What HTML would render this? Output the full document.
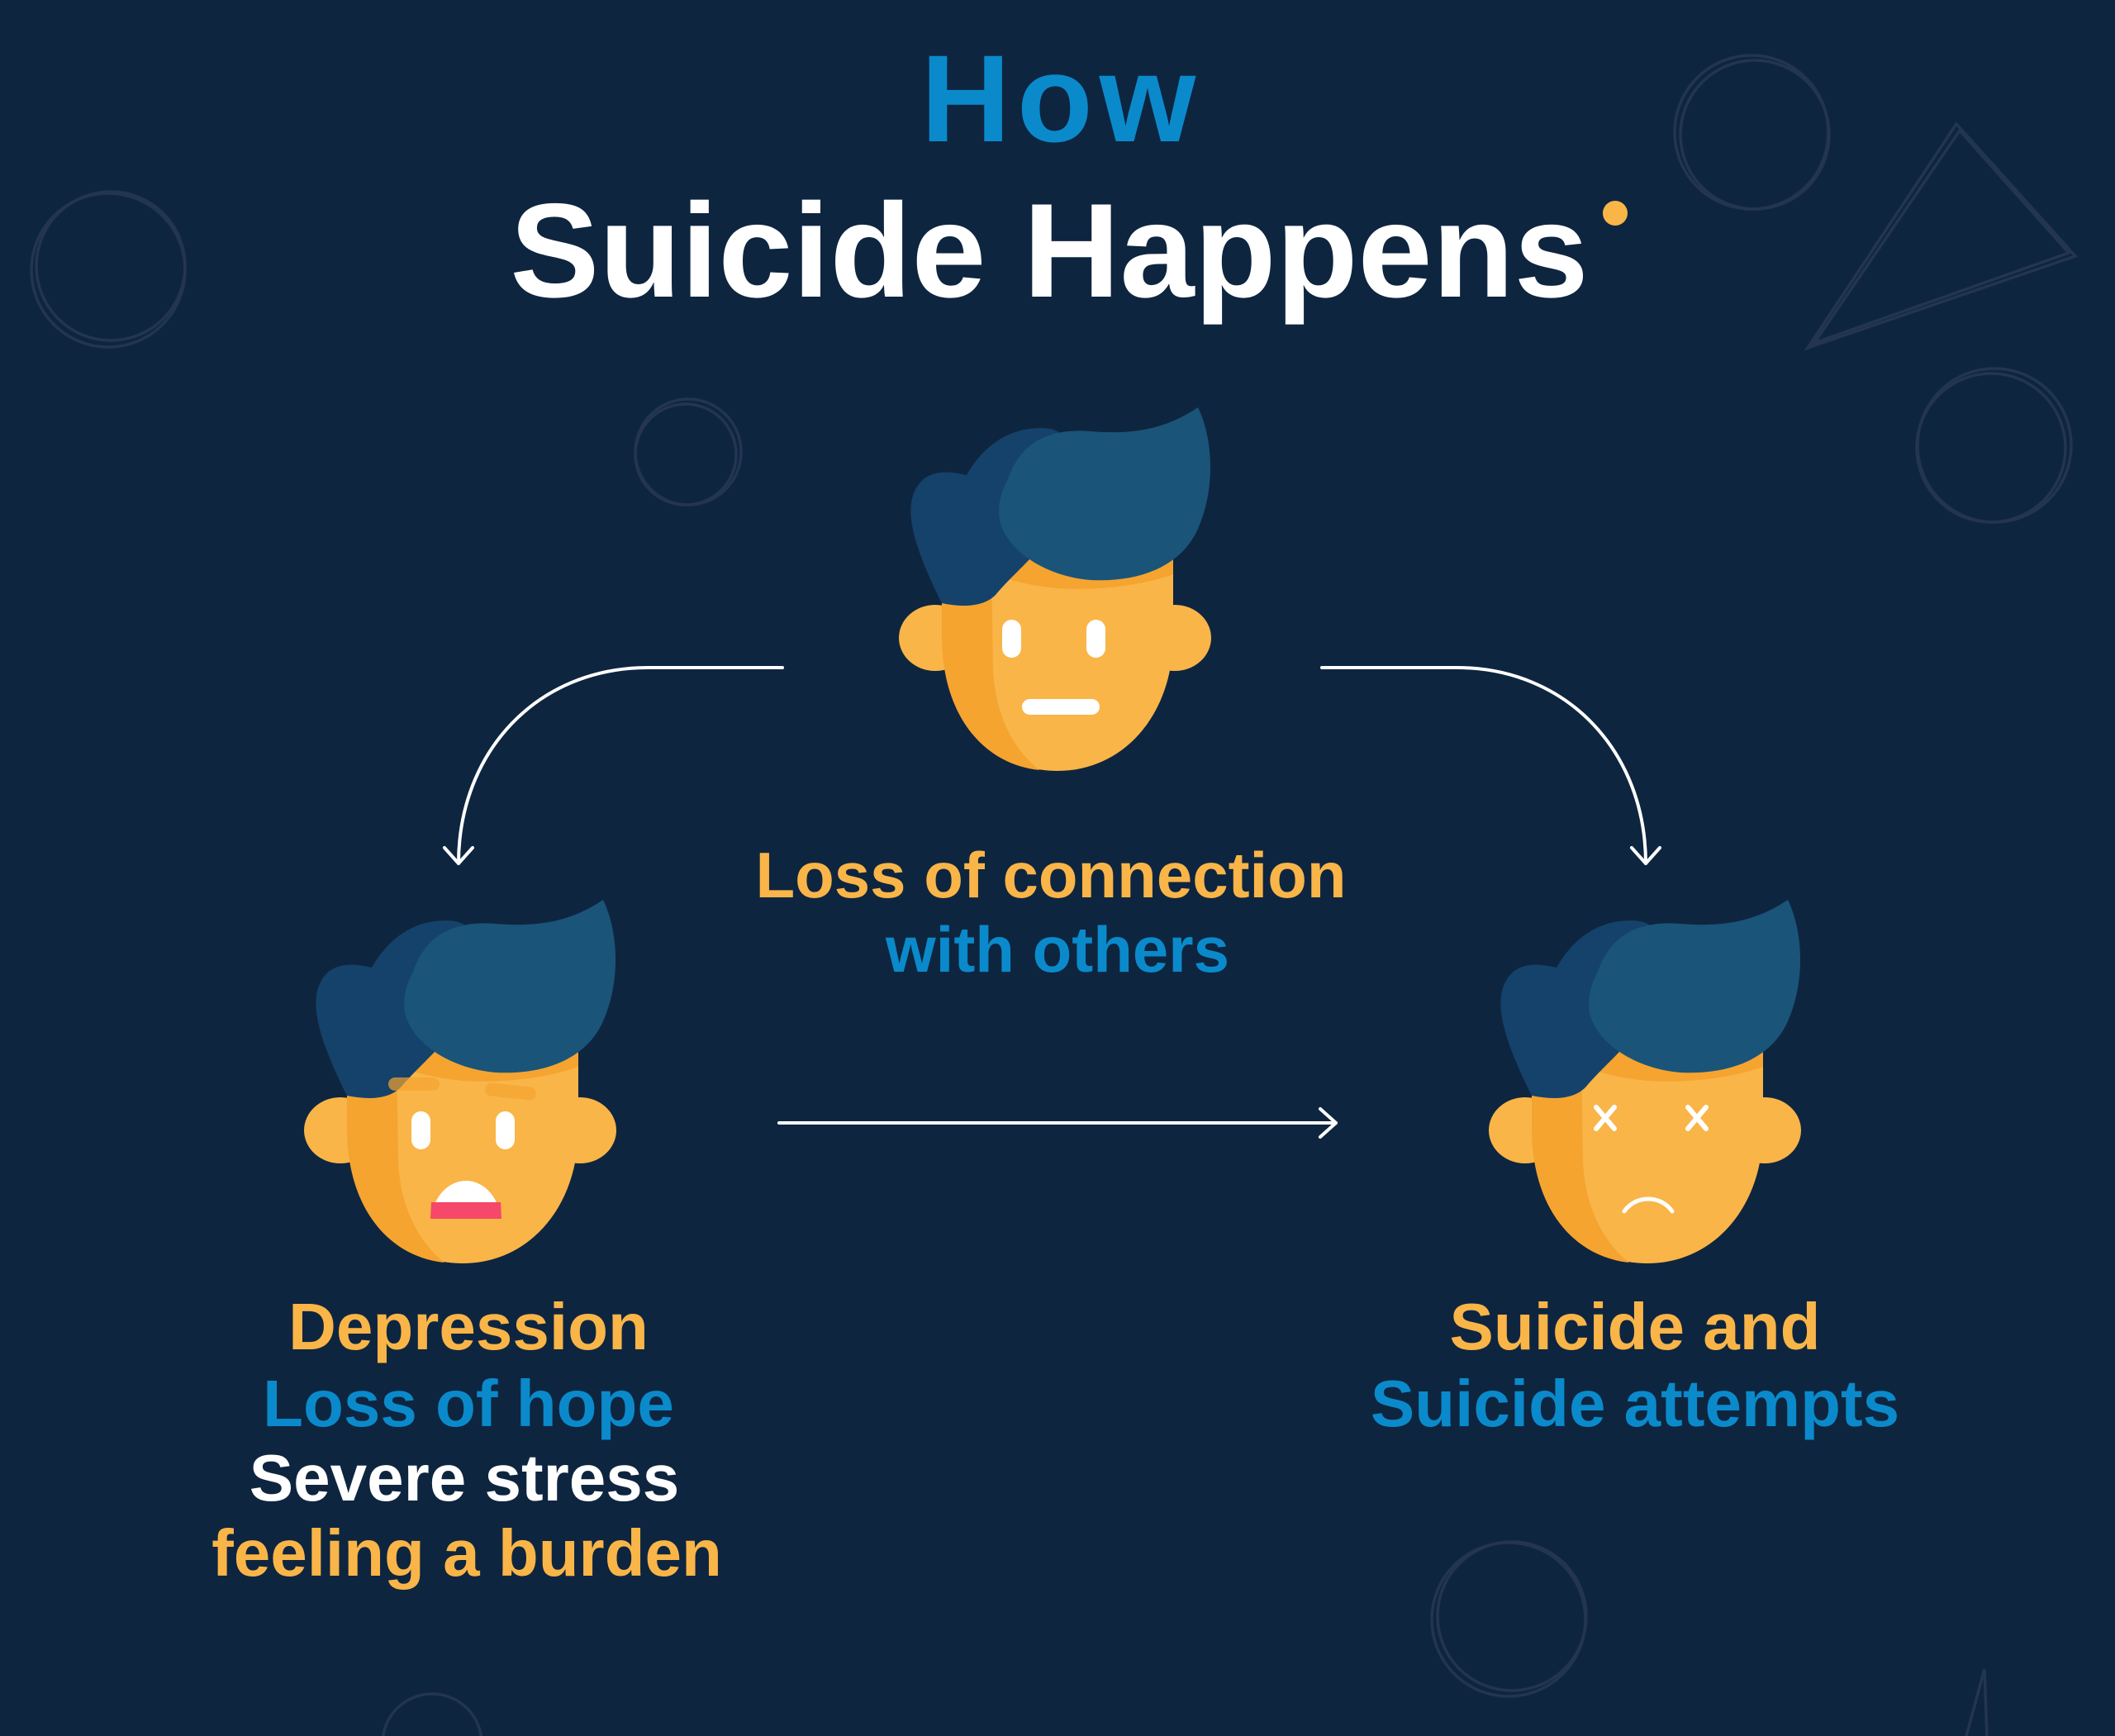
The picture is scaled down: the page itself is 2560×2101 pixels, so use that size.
<!DOCTYPE html>
<html><head><meta charset="utf-8"><style>
html,body{margin:0;padding:0;background:#0e2540;}
svg{display:block}
text{font-family:"Liberation Sans",sans-serif;font-weight:bold;text-anchor:middle}
</style></head><body>
<svg width="2560" height="2101" viewBox="0 0 2560 2101" xmlns="http://www.w3.org/2000/svg">
<defs>
<g id="head">
  <ellipse cx="52" cy="292" rx="44" ry="40" fill="#f9b548"/>
  <ellipse cx="342" cy="292" rx="44" ry="40" fill="#f9b548"/>
  <path d="M60,190 L340,190 L340,290 C340,385 280,453 200,453 C120,453 60,385 60,290 Z" fill="#f9b548"/>
  <path d="M60,200 L120,200 L122,330 C125,390 150,430 178,452 C110,445 60,385 60,290 Z" fill="#f5a430"/>
  <path d="M120,195 L340,195 L340,215 C300,230 240,235 200,232 C160,228 130,220 120,210 Z" fill="#f5a430"/>
  <path d="M60,250 C35,200 15,150 25,120 C35,90 60,88 90,95 C110,60 140,38 180,38 C230,38 220,90 200,150 C180,190 150,210 125,240 C110,255 85,255 60,250 Z" fill="#15426a"/>
  <path d="M140,100 C155,55 190,38 240,42 C290,46 330,40 370,13 C388,50 392,110 370,160 C350,205 300,225 240,222 C190,218 140,190 130,150 C127,130 132,115 140,100 Z" fill="#1a5479"/>
</g>
</defs>
<rect width="2560" height="2101" fill="#0e2540"/>
<g fill="none" stroke="#233550" stroke-width="3.5">
<circle cx="131" cy="327" r="93"/><circle cx="134" cy="322" r="90"/>
<circle cx="833" cy="547" r="64"/><circle cx="830" cy="550" r="61"/>
<circle cx="2120" cy="160" r="93"/><circle cx="2124" cy="163" r="90"/>
<circle cx="2414" cy="539" r="93"/><circle cx="2410" cy="542" r="90"/>
<circle cx="1826" cy="1960" r="93"/><circle cx="1830" cy="1956" r="90"/>
<circle cx="523" cy="2110" r="60"/>
<path d="M2368,150 L2512,310 L2188,421 Z"/><path d="M2372,158 L2504,306 L2196,415 Z"/>
<path d="M2402,2020 L2380,2101 M2402,2020 L2405,2101"/>
</g>
<text x="1285" y="171" font-size="150" fill="#0a8acb" letter-spacing="8">How</text>
<text x="1270" y="359" font-size="162" fill="#ffffff">Suicide Happens</text>
<circle cx="1955" cy="258" r="15" fill="#f9b548"/>

<use href="#head" x="1080" y="480"/>
<rect x="1213" y="750" width="23" height="46" rx="11.5" fill="#fff"/>
<rect x="1315" y="750" width="23" height="46" rx="11.5" fill="#fff"/>
<rect x="1237" y="846" width="94" height="19" rx="9.5" fill="#fff"/>

<use href="#head" x="360" y="1076"/>
<rect x="470" y="1304" width="62" height="16" rx="8" fill="#f5a430" opacity="0.7"/>
<rect x="587" y="1313" width="62" height="16" rx="8" fill="#f5a430" opacity="0.7" transform="rotate(6 618 1321)"/>
<rect x="498" y="1345" width="23" height="46" rx="11.5" fill="#fff"/>
<rect x="600" y="1345" width="23" height="46" rx="11.5" fill="#fff"/>
<path d="M522,1475 C525,1445 545,1429 564,1429 C583,1429 603,1445 606,1475 Z" fill="#fff"/>
<path d="M522,1455 L606,1455 L607,1475 L521,1475 Z" fill="#f5486a"/>

<use href="#head" x="1794" y="1076"/>
<g stroke="#fff" stroke-width="6" stroke-linecap="round">
<path d="M1932,1340 L1954,1366 M1954,1340 L1932,1366"/>
<path d="M2043,1340 L2065,1366 M2065,1340 L2043,1366"/>
</g>
<path d="M1966,1466 C1980,1446 2010,1446 2024,1466" fill="none" stroke="#fff" stroke-width="5" stroke-linecap="round"/>

<g fill="none" stroke="#fff" stroke-width="4" stroke-linecap="round" stroke-linejoin="round">
<path d="M947,808 L784,808 C650,808 555,910 555,1045"/>
<path d="M538,1026 L555,1045 L572,1026"/>
<path d="M1600,808 L1763,808 C1897,808 1992,910 1992,1045"/>
<path d="M1975,1026 L1992,1045 L2009,1026"/>
<path d="M943,1359 L1617,1359"/>
<path d="M1598,1342 L1617,1359 L1598,1376"/>
</g>

<text x="1272" y="1086" font-size="78" fill="#f9b548">Loss of connection</text>
<text x="1280" y="1176" font-size="78" fill="#0a8acb">with others</text>
<text x="567" y="1633" font-size="80" fill="#f9b548">Depression</text>
<text x="567" y="1726" font-size="80" fill="#0a8acb">Loss of hope</text>
<text x="562" y="1816" font-size="80" fill="#ffffff">Severe stress</text>
<text x="565" y="1907" font-size="80" fill="#f9b548">feeling a burden</text>
<text x="1979" y="1633" font-size="80" fill="#f9b548">Suicide and</text>
<text x="1979" y="1726" font-size="80" fill="#0a8acb">Suicide attempts</text>
</svg>
</body></html>
